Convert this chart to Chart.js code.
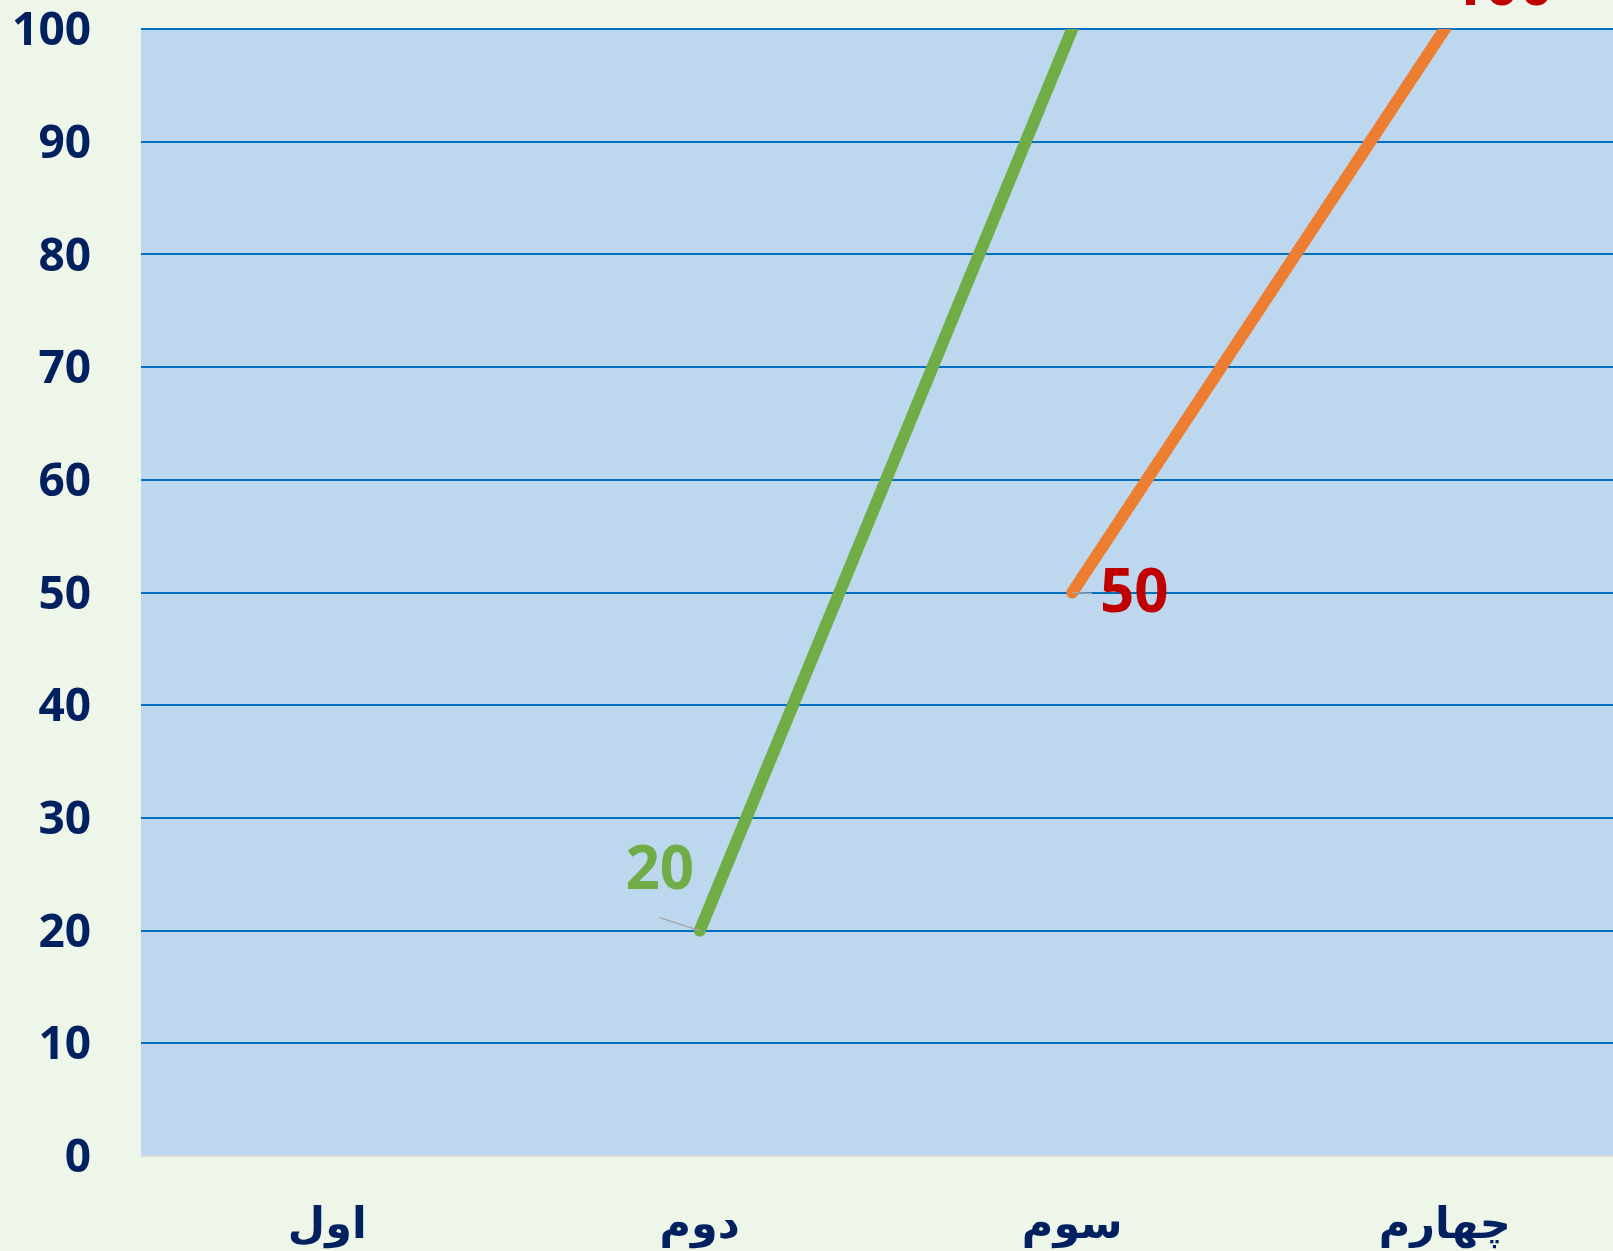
<!DOCTYPE html>
<html>
<head>
<meta charset="utf-8">
<script src="https://cdn.jsdelivr.net/npm/chart.js@4.4.0/dist/chart.umd.min.js"></script>
<style>
  html, body { margin: 0; padding: 0; background: #EEF5E9; overflow: hidden; }
  body { width: 1613px; height: 1251px; position: relative; }
  #wrap { position: absolute; left: 0; top: -60px; width: 1631px; height: 1311px; }
</style>
</head>
<body>
<div id="wrap"><canvas id="lineChart"></canvas></div>
<script>
// data
const categories = ["اول", "دوم", "سوم", "چهارم"];
const greenValues = [null, 20, 100, null];
const orangeValues = [null, null, 50, 100];
const yTicks = [0, 10, 20, 30, 40, 50, 60, 70, 80, 90, 100];

// label placement relative to point: [dx, dy] for text, [lx, ly] for leader start
const greenLabels = [null, { dx: -40, dy: -59, lx: -40, ly: -13 }, null, null];
const orangeLabels = [null, null, { dx: 62, dy: 2, lx: 20, ly: 1 }, { dx: 57, dy: -41, lx: 0, ly: 0 }];

const plotBg = {
  id: "plotBg",
  beforeDraw: (chart) => {
    const { ctx, chartArea } = chart;
    ctx.save();
    ctx.fillStyle = "#BDD7EE";
    ctx.fillRect(chartArea.left, chartArea.top, chartArea.right - chartArea.left, chartArea.bottom - chartArea.top);
    ctx.restore();
  },
};

const pointLabels = {
  id: "pointLabels",
  afterDatasetsDraw: (chart) => {
    const ctx = chart.ctx;
    chart.data.datasets.forEach((ds, i) => {
      const meta = chart.getDatasetMeta(i);
      meta.data.forEach((pt, j) => {
        const lab = ds.labelPos[j];
        if (!lab || ds.data[j] === null) return;
        ctx.save();
        if (lab.lx || lab.ly) {
          ctx.beginPath();
          ctx.strokeStyle = "#A6A6A6";
          ctx.lineWidth = 1.5;
          ctx.moveTo(pt.x + lab.lx, pt.y + lab.ly);
          ctx.lineTo(pt.x, pt.y);
          ctx.stroke();
        }
        ctx.font = "bold 60px 'Open Sans'";
        ctx.fillStyle = ds.labelColor;
        ctx.textAlign = "center";
        ctx.textBaseline = "middle";
        ctx.fillText(String(ds.data[j]), pt.x + lab.dx, pt.y + lab.dy);
        ctx.restore();
      });
    });
  },
};

const ctx = document.getElementById("lineChart").getContext("2d");
new Chart(ctx, {
  type: "line",
  data: {
    labels: categories,
    datasets: [
      {
        label: "green",
        data: greenValues,
        borderColor: "#70AD47",
        backgroundColor: "#70AD47",
        borderWidth: 12,
        borderCapStyle: "round",
        pointRadius: 0,
        labelColor: "#70AD47",
        labelPos: greenLabels,
        clip: 0,
      },
      {
        label: "orange",
        data: orangeValues,
        borderColor: "#ED7D31",
        backgroundColor: "#ED7D31",
        borderWidth: 12,
        borderCapStyle: "round",
        pointRadius: 0,
        labelColor: "#C00000",
        labelPos: orangeLabels,
        clip: 0,
      },
    ],
  },
  plugins: [plotBg, pointLabels],
  options: {
    responsive: true,
    maintainAspectRatio: false,
    animation: false,
    layout: { padding: { top: 89, left: 0, right: 0, bottom: 0 } },
    plugins: {
      legend: { display: false },
      tooltip: { enabled: false },
    },
    scales: {
      x: {
        offset: true,
        grid: { display: false, drawTicks: false },
        border: { display: false },
        ticks: {
          color: "#002060",
          font: { family: "'DejaVu Sans'", size: 43, weight: "bold" },
          padding: 45,
        },
        afterFit: (scale) => { scale.height = 95; },
      },
      y: {
        min: 0,
        max: 100,
        afterBuildTicks: (scale) => {
          scale.ticks = yTicks.map((v) => ({ value: v }));
        },
        grid: {
          drawTicks: false,
          lineWidth: 2,
          color: (c) => (c.tick && c.tick.value === 0 ? "#D9D9D9" : "#0070C0"),
        },
        border: { display: false },
        ticks: {
          color: "#002060",
          font: { family: "'Open Sans'", size: 46, weight: "bold" },
          padding: 50,
          labelOffset: 3,
        },
        afterFit: (scale) => { scale.width = 141; },
      },
    },
  },
});
</script>
</body>
</html>
